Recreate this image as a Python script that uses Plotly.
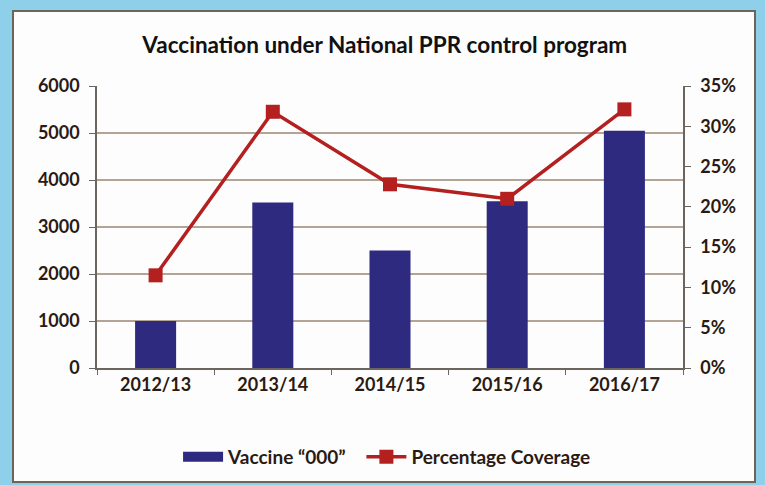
import plotly.graph_objects as go

years = ["2012/13", "2013/14", "2014/15", "2015/16", "2016/17"]
vaccine = [1000, 3520, 2500, 3550, 5050]
coverage = [0.115, 0.318, 0.228, 0.21, 0.321]
left_ticks = [0, 1000, 2000, 3000, 4000, 5000, 6000]
right_ticks = [0, 0.05, 0.10, 0.15, 0.20, 0.25, 0.30, 0.35]

FONT = "Lato"
TXT = "#2a1a12"
BG = "#8ecfea"
BAR = "#2e2a7f"
RED = "#b3201f"

fig = go.Figure()
fig.add_trace(go.Bar(
    x=years, y=vaccine, name="Vaccine \u201c000\u201d",
    marker=dict(color=BAR, line=dict(width=0)),
    width=0.35, showlegend=False, legendgroup="v",
))
# legend proxy giving the wide rectangular swatch of the bar series
fig.add_trace(go.Scatter(
    x=[None], y=[None], name="<b>Vaccine \u201c000\u201d</b>\u00a0\u00a0", mode="lines",
    line=dict(color=BAR, width=12), legendgroup="v", hoverinfo="skip",
))
fig.add_trace(go.Scatter(
    x=years, y=coverage, name="<b>Percentage Coverage</b>", yaxis="y2",
    mode="lines+markers",
    line=dict(color=RED, width=3.5),
    marker=dict(symbol="square", size=14, color=RED),
))

fig.update_layout(
    width=765, height=485,
    paper_bgcolor=BG,
    plot_bgcolor="rgba(0,0,0,0)",
    margin=dict(l=97, r=82, t=86, b=117, autoexpand=False),
    title=dict(text="<b>Vaccination under National PPR control program</b>",
               x=0.503, xanchor="center", y=0.907, yanchor="middle",
               font=dict(family=FONT, size=22.5, color="#111111")),
    font=dict(family=FONT, size=18, color=TXT),
    showlegend=True,
    legend=dict(orientation="h", x=0.495, xanchor="center", y=-0.315, yanchor="middle",
                font=dict(family=FONT, size=19, color=TXT), bgcolor="rgba(0,0,0,0)",
                itemwidth=40, traceorder="normal", tracegroupgap=0),
    xaxis=dict(
        type="category", showline=True, linecolor="#6b6560", linewidth=1.5,
        ticks="outside", tickson="boundaries", ticklen=5, tickcolor="#6b6560",
        tickfont=dict(family=FONT, size=18, color=TXT),
        tickprefix="<b>", ticksuffix="</b>", showgrid=False,
    ),
    yaxis=dict(
        range=[0, 6000], tickvals=left_ticks,
        ticktext=[f"<b>{v}</b>" for v in left_ticks],
        showline=True, linecolor="#6b6560", linewidth=1.5,
        ticks="outside", ticklen=6, tickcolor="#6b6560",
        showgrid=True, gridcolor="#b3a496", gridwidth=1.5, zeroline=False,
        tickfont=dict(family=FONT, size=18, color=TXT), ticklabelstandoff=6,
    ),
    yaxis2=dict(
        range=[0, 0.35], tickvals=right_ticks,
        ticktext=[f"<b>{int(round(v*100))}%</b>" for v in right_ticks],
        overlaying="y", side="right",
        showline=True, linecolor="#6b6560", linewidth=1.5,
        ticks="outside", ticklen=6, tickcolor="#6b6560",
        showgrid=False, zeroline=False,
        tickfont=dict(family=FONT, size=18, color=TXT), ticklabelstandoff=6,
    ),
)

# white chart panel with a grey border (paper fractions of plot area)
fig.add_shape(type="rect", xref="paper", yref="paper", layer="below",
              x0=-84 / 586, x1=658 / 586, y0=-(482 - 368) / 282, y1=1 + 75 / 282,
              fillcolor="#fdfdfd", line=dict(color="#6e6458", width=2))

fig.write_html("out.html", config={"displayModeBar": False},
               post_script="document.body.style.margin='0';document.body.style.background='%s';" % BG)
